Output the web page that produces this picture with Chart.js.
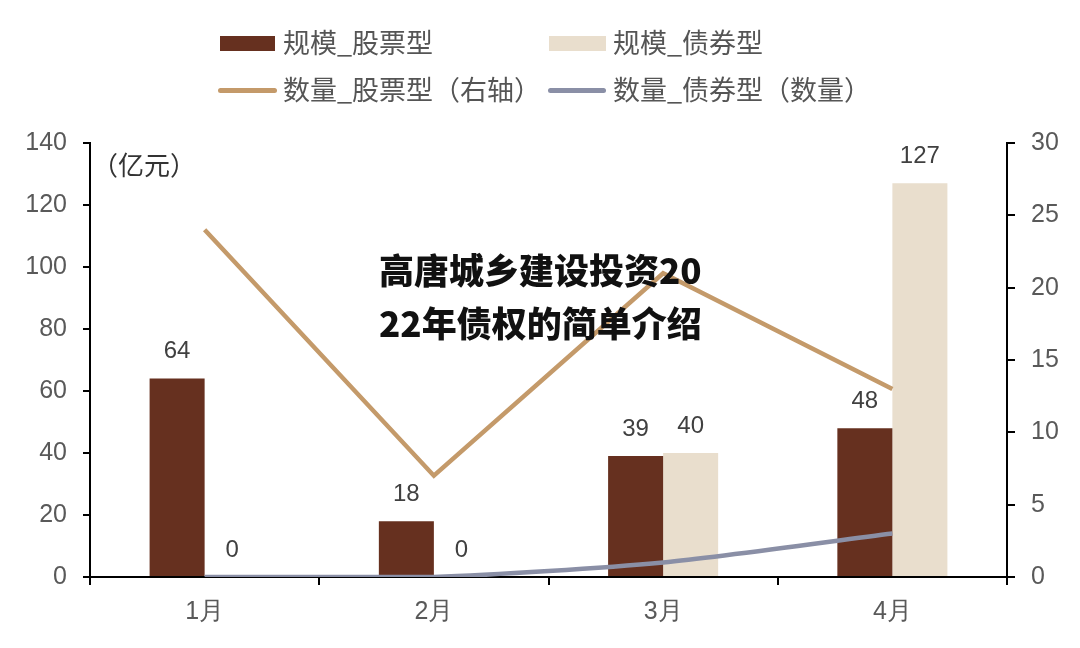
<!DOCTYPE html>
<html>
<head>
<meta charset="utf-8">
<script src="https://cdn.jsdelivr.net/npm/chart.js@4"></script>
<style>
  body { margin: 0; background: #fff; }
  #wrap { position: relative; width: 1080px; height: 648px; font-family: "Liberation Sans", "Noto Sans CJK SC", sans-serif; }
  canvas { position: absolute; left: 0; top: 0; }
  .leg { position: absolute; font-family: "Noto Sans CJK SC", sans-serif; font-size: 27px; color: #555; line-height: 30px; }
  .sw { position: absolute; }
  #unit { position: absolute; left: 92px; top: 145px; font-family: "Noto Sans CJK SC", sans-serif; font-size: 26px; color: #333; }
  #mark { position: absolute; left: 379px; top: 242px; font-family: "Noto Sans CJK SC", sans-serif; font-weight: 900; font-size: 35px; line-height: 53px; color: #111; }
</style>
</head>
<body>
<div id="wrap">
  <canvas id="myChart" width="1080" height="648"></canvas>
  <div class="sw" style="left:220px;top:36px;width:55px;height:15px;background:#66301F"></div>
  <div class="leg" style="left:283px;top:27px">规模_股票型</div>
  <div class="sw" style="left:549px;top:36px;width:57px;height:15px;background:#E9DECD"></div>
  <div class="leg" style="left:613px;top:27px">规模_债券型</div>
  <div class="sw" style="left:218px;top:88px;width:59px;height:5px;background:#C49A6A;border-radius:3px"></div>
  <div class="leg" style="left:283px;top:74px">数量_股票型（右轴）</div>
  <div class="sw" style="left:548px;top:88px;width:58px;height:5px;background:#8A8FA6;border-radius:3px"></div>
  <div class="leg" style="left:613px;top:74px">数量_债券型（数量）</div>
  <div id="unit">（亿元）</div>
  <div id="mark">高唐城乡建设投资20<br>22年债权的简单介绍</div>
</div>
<script>
const meses = ["1月", "2月", "3月", "4月"];
const escalaAcciones = [64, 18, 39, 48];
const escalaBonos = [0, 0, 40, 127];
const cantidadAcciones = [24, 7, 21, 13];
const cantidadBonos = [0, 0, 1, 3];
const ticksIzq = [0, 20, 40, 60, 80, 100, 120, 140];
const ticksDer = [0, 5, 10, 15, 20, 25, 30];

// etiquetas de valor encima de las barras
const etiquetas = {
  id: "etiquetas",
  afterDatasetsDraw(chart) {
    const ctx = chart.ctx;
    ctx.save();
    ctx.font = "24px 'Liberation Sans'";
    ctx.fillStyle = "#404040";
    ctx.textAlign = "center";
    ctx.textBaseline = "middle";
    chart.data.datasets.forEach((ds, i) => {
      if (ds.type !== "bar") return;
      chart.getDatasetMeta(i).data.forEach((bar, j) => {
        ctx.fillText(ds.data[j], bar.x, bar.y - 27);
      });
    });
    ctx.restore();
  }
};

const ejeTicks = { color: "#595959", font: { family: "Liberation Sans", size: 25 } };

new Chart(document.getElementById("myChart"), {
  data: {
    labels: meses,
    datasets: [
      { type: "line", label: "数量_股票型（右轴）", data: cantidadAcciones, yAxisID: "y1", borderColor: "#C49A6A", borderWidth: 4.5, pointRadius: 0, tension: 0, order: 0 },
      { type: "line", label: "数量_债券型（数量）", data: cantidadBonos, yAxisID: "y1", borderColor: "#8A8FA6", borderWidth: 4.5, pointRadius: 0, tension: 0.25, order: 0 },
      { type: "bar", label: "规模_股票型", data: escalaAcciones, yAxisID: "y", backgroundColor: "#66301F", categoryPercentage: 0.48, barPercentage: 1, order: 1 },
      { type: "bar", label: "规模_债券型", data: escalaBonos, yAxisID: "y", backgroundColor: "#E9DECD", categoryPercentage: 0.48, barPercentage: 1, order: 1 }
    ]
  },
  options: {
    responsive: false,
    animation: false,
    layout: { padding: { top: 143, left: 0, right: 0, bottom: 0 } },
    plugins: { legend: { display: false }, tooltip: { enabled: false } },
    scales: {
      x: {
        offset: true,
        grid: { offset: true, drawOnChartArea: false, drawTicks: true, tickLength: 8, color: "#000", lineWidth: 2 },
        border: { color: "#000", width: 2 },
        ticks: { ...ejeTicks, padding: 12 },
        afterFit: s => { s.height = 71; }
      },
      y: {
        position: "left",
        min: 0, max: 140,
        afterBuildTicks: s => { s.ticks = ticksIzq.map(v => ({ value: v })); },
        grid: { drawOnChartArea: false, tickLength: 7, color: "#000", lineWidth: 2 },
        border: { color: "#000", width: 2 },
        ticks: { ...ejeTicks, padding: 16 },
        afterFit: s => { s.width = 90; }
      },
      y1: {
        position: "right",
        min: 0, max: 30,
        afterBuildTicks: s => { s.ticks = ticksDer.map(v => ({ value: v })); },
        grid: { drawOnChartArea: false, tickLength: 8, color: "#000", lineWidth: 2 },
        border: { color: "#000", width: 2 },
        ticks: { ...ejeTicks, padding: 16 },
        afterFit: s => { s.width = 73; }
      }
    }
  },
  plugins: [etiquetas]
});
</script>
</body>
</html>
